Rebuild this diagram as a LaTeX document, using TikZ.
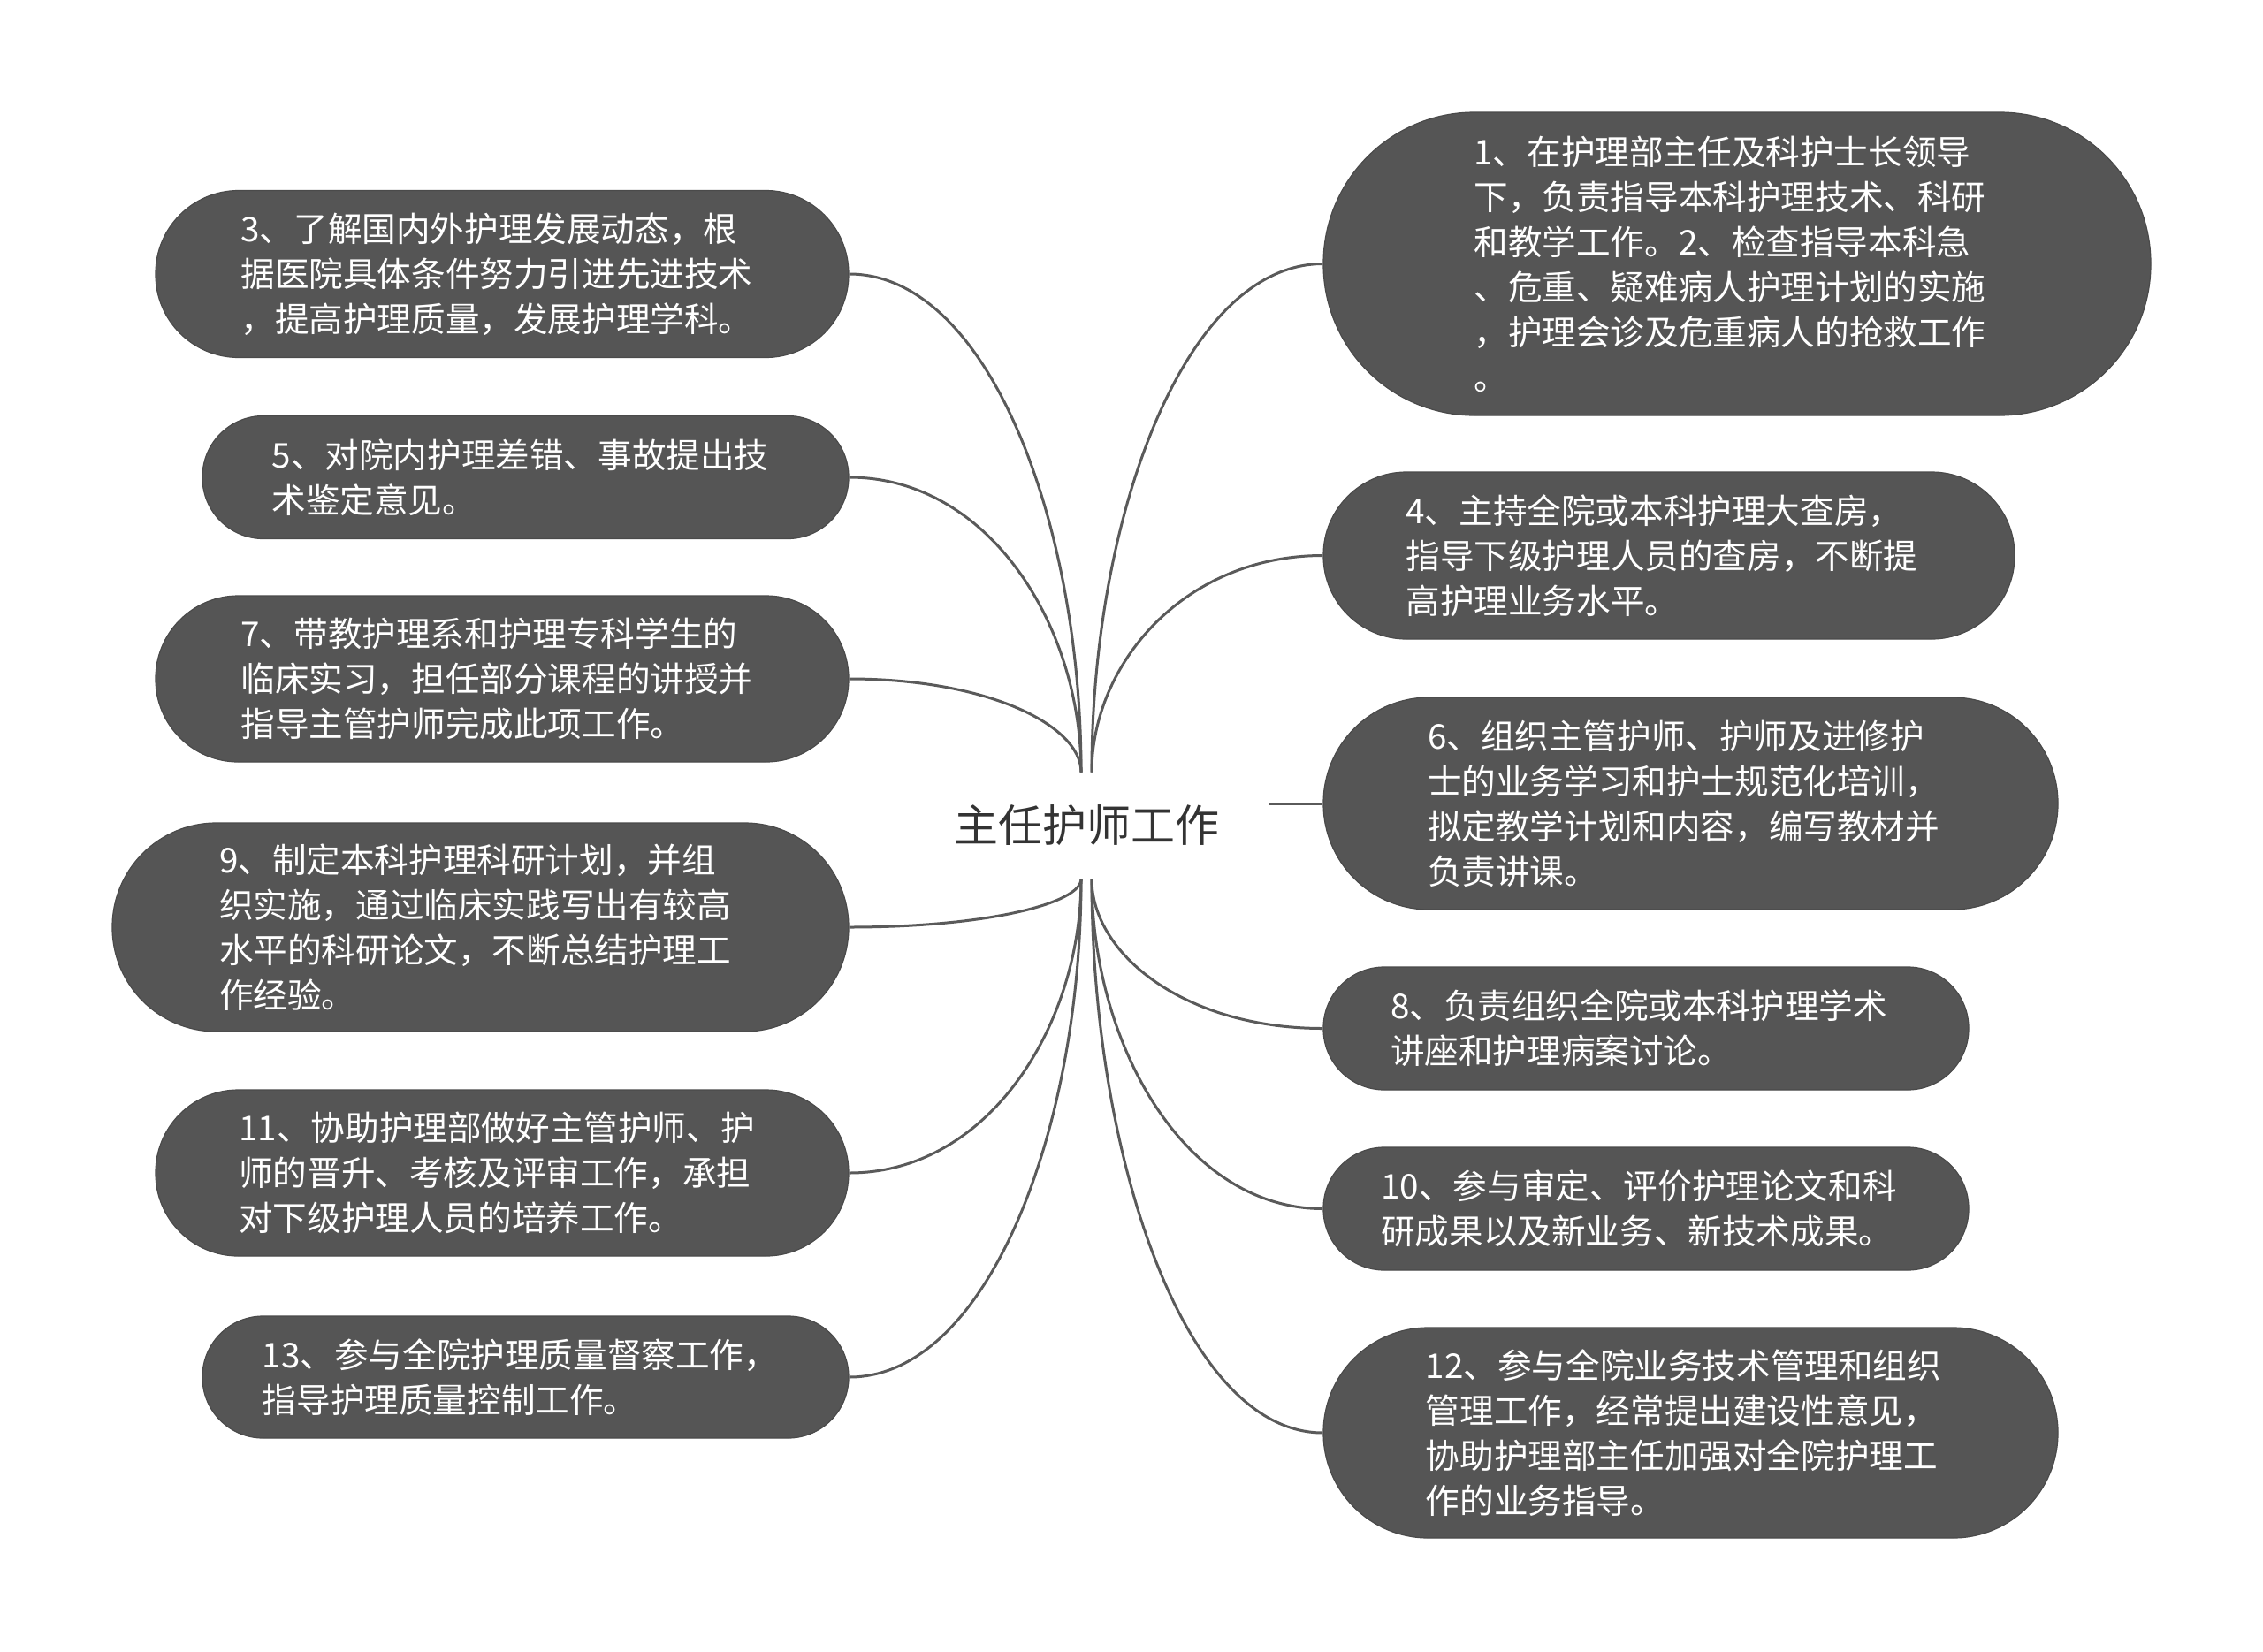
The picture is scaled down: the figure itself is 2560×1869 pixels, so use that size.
\documentclass[tikz,border=0pt]{standalone}
\usepackage{fontspec}
\newfontfamily\cjk{Noto Sans CJK SC}
\usetikzlibrary{calc}
\definecolor{nodefill}{HTML}{555555}
\definecolor{nodeline}{HTML}{4A4A4A}
\definecolor{linkc}{HTML}{5A5A5A}
\definecolor{roottext}{HTML}{333333}
\tikzset{
  topic/.style={draw=nodeline, line width=0.6pt, fill=nodefill, inner sep=0pt},
  topictext/.style={text=white, font=\cjk\fontsize{19.3pt}{25.5pt}\selectfont,
    align=left, inner sep=0pt},
  link/.style={draw=linkc, line width=1.5pt},
  rootnode/.style={font=\cjk\fontsize{25pt}{30pt}\selectfont, text=roottext,
    inner sep=0pt, minimum width=206pt, minimum height=60pt}
}
\begin{document}
\begin{tikzpicture}[x=0.5pt,y=-0.5pt]
\useasboundingbox (0,0) rectangle (2560,1869);
\fill[white] (0,0) rectangle (2560,1869);

\node[rootnode] (root) at (1229,934) {主任护师工作};
\coordinate (tl) at ([xshift=-3pt]root.north);
\coordinate (tr) at ([xshift=3pt]root.north);
\coordinate (bl) at ([xshift=-3pt]root.south);
\coordinate (br) at ([xshift=3pt]root.south);

% left nodes
\node[topic, minimum width=392pt, minimum height=94.5pt, rounded corners=47pt] (l1) at (568,310) {};
\node[topictext] (l1t) at ([xshift=-3pt]l1.center)
 {3、了解国内外护理发展动态，根\\据医院具体条件努力引进先进技术\\，提高护理质量，发展护理学科。};
\node[topic, minimum width=365.5pt, minimum height=69.5pt, rounded corners=34.5pt] (l2) at (594.5,540) {};
\node[topictext] (l2t) at ([xshift=-3pt]l2.center)
 {5、对院内护理差错、事故提出技\\术鉴定意见。};
\node[topic, minimum width=392pt, minimum height=94pt, rounded corners=46.8pt] (l3) at (568,768) {};
\node[topictext] (l3t) at ([xshift=-3pt]l3.center)
 {7、带教护理系和护理专科学生的\\临床实习，担任部分课程的讲授并\\指导主管护师完成此项工作。};
\node[topic, minimum width=416.5pt, minimum height=118pt, rounded corners=58.8pt] (l4) at (543.5,1049) {};
\node[topictext] (l4t) at ([xshift=-3pt]l4.center)
 {9、制定本科护理科研计划，并组\\织实施，通过临床实践写出有较高\\水平的科研论文，不断总结护理工\\作经验。};
\node[topic, minimum width=392pt, minimum height=94pt, rounded corners=46.8pt] (l5) at (568,1327) {};
\node[topictext] (l5t) at ([xshift=-3pt]l5.center)
 {11、协助护理部做好主管护师、护\\师的晋升、考核及评审工作，承担\\对下级护理人员的培养工作。};
\node[topic, minimum width=365.5pt, minimum height=69pt, rounded corners=34.3pt] (l6) at (594.5,1558) {};
\node[topictext] (l6t) at ([xshift=-3pt]l6.center)
 {13、参与全院护理质量督察工作，\\指导护理质量控制工作。};

% right nodes
\node[topic, minimum width=468pt, minimum height=171.5pt, rounded corners=85.5pt] (r1) at (1965,298.5) {};
\node[topictext] (r1t) at ([xshift=-4pt]r1.center)
 {1、在护理部主任及科护士长领导\\下，负责指导本科护理技术、科研\\和教学工作。2、检查指导本科急\\、危重、疑难病人护理计划的实施\\，护理会诊及危重病人的抢救工作\\。};
\node[topic, minimum width=391pt, minimum height=94.5pt, rounded corners=47pt] (r2) at (1888,628.5) {};
\node[topictext] (r2t) at ([xshift=-4pt]r2.center)
 {4、主持全院或本科护理大查房，\\指导下级护理人员的查房，不断提\\高护理业务水平。};
\node[topic, minimum width=415.5pt, minimum height=120pt, rounded corners=59.8pt] (r3) at (1912.5,909) {};
\node[topictext] (r3t) at ([xshift=-4pt]r3.center)
 {6、组织主管护师、护师及进修护\\士的业务学习和护士规范化培训，\\拟定教学计划和内容，编写教材并\\负责讲课。};
\node[topic, minimum width=365pt, minimum height=69.5pt, rounded corners=34.5pt] (r4) at (1862,1163.5) {};
\node[topictext] (r4t) at ([xshift=-4pt]r4.center)
 {8、负责组织全院或本科护理学术\\讲座和护理病案讨论。};
\node[topic, minimum width=365pt, minimum height=69.5pt, rounded corners=34.5pt] (r5) at (1862,1367.5) {};
\node[topictext] (r5t) at ([xshift=-4pt]r5.center)
 {10、参与审定、评价护理论文和科\\研成果以及新业务、新技术成果。};
\node[topic, minimum width=415.5pt, minimum height=119pt, rounded corners=59.3pt] (r6) at (1912.5,1621) {};
\node[topictext] (r6t) at ([xshift=-4pt]r6.center)
 {12、参与全院业务技术管理和组织\\管理工作，经常提出建设性意见，\\协助护理部主任加强对全院护理工\\作的业务指导。};

% connectors
\foreach \n/\c in {l1/tl,l2/tl,l3/tl,l4/bl,l5/bl,l6/bl}
  \draw[link] (\n.east) .. controls ($(\n.east)!0.6!(\c |- \n.east)$) and ($(\c)!0.5!(\c |- \n.east)$) .. (\c);
\foreach \n/\c in {r1/tr,r2/tr,r4/br,r5/br,r6/br}
  \draw[link] (\n.west) .. controls ($(\n.west)!0.6!(\c |- \n.west)$) and ($(\c)!0.5!(\c |- \n.west)$) .. (\c);
\draw[link] (root.east |- r3.west) -- (r3.west);
\end{tikzpicture}
\end{document}
